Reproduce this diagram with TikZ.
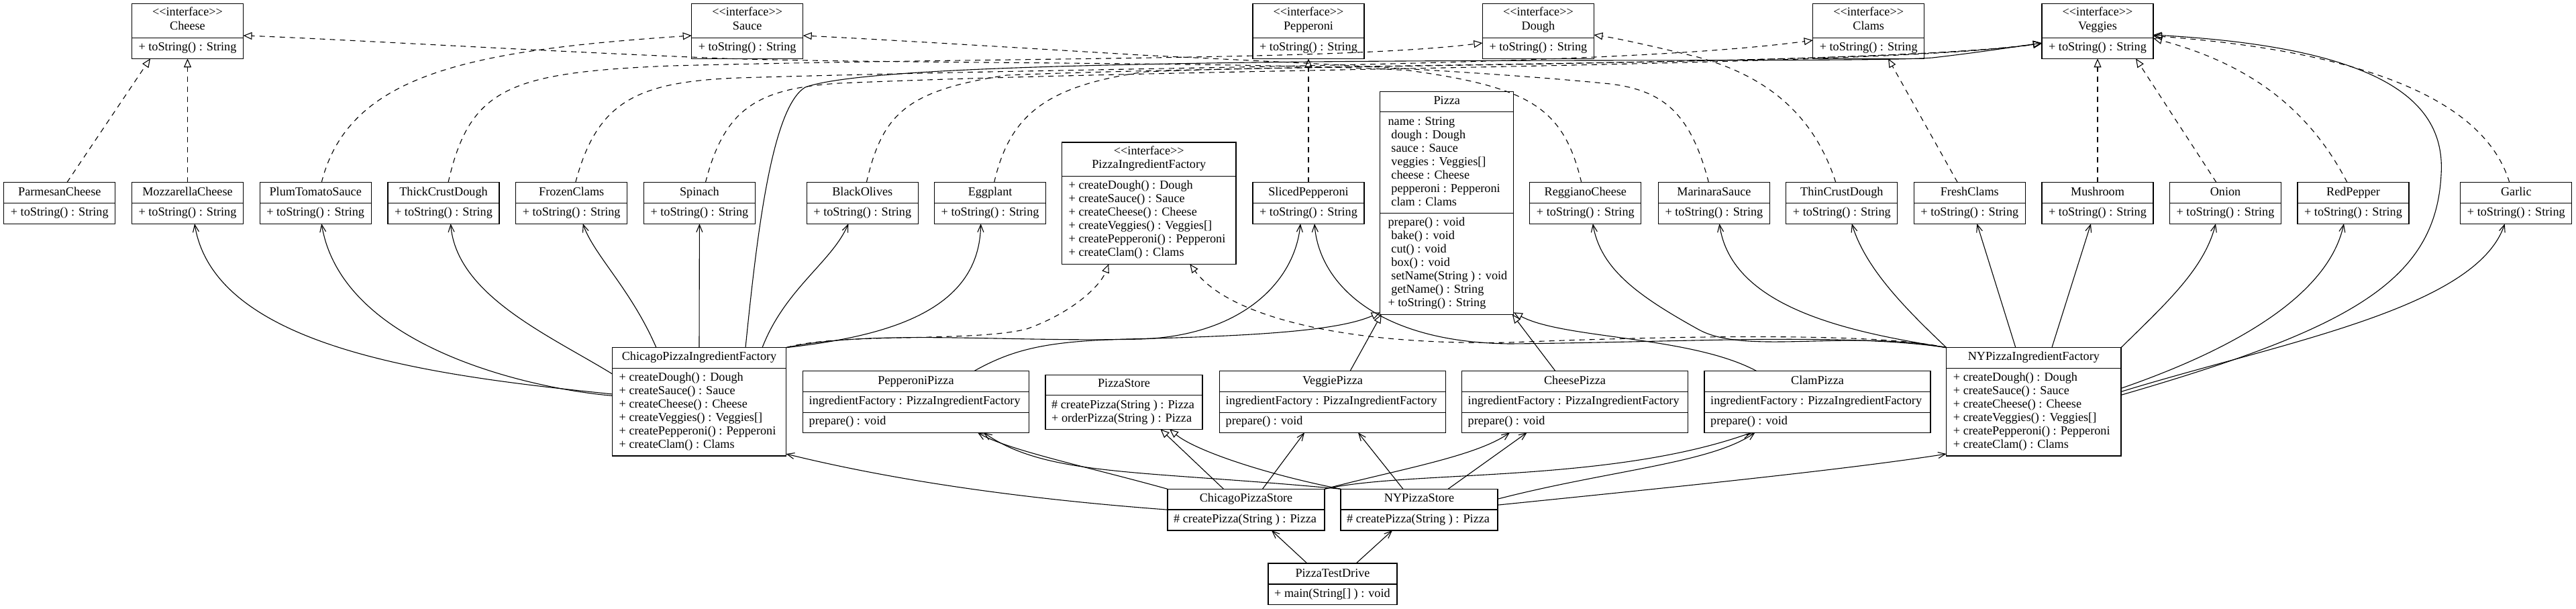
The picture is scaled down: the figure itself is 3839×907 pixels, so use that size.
\documentclass[tikz,border=0pt]{standalone}
\usepackage{fontspec}
\setmainfont{Liberation Serif}
\usetikzlibrary{arrows.meta}
\tikzset{
  box/.style={draw, line width=1.3pt, rectangle, inner sep=0pt, outer sep=0pt, anchor=north west},
  sepline/.style={line width=1.3pt},
  lbl/.style={inner sep=0pt, text height=12pt, text depth=4pt},
  conn/.style={line width=1.1pt},
  realize/.style={conn, dash pattern=on 8pt off 7pt, -{Triangle[open,length=13pt,width=11pt]}},
  gen/.style={conn, -{Triangle[open,length=13pt,width=11pt]}},
  assoc/.style={conn, -{Straight Barb[length=11pt,width=9pt]}},
}
\newcommand{\stereo}{<{}<interface>{}>}
\newcommand{\ingbox}[3]{%
  \node[box, minimum width=166, minimum height=61.6] (#1) at (#2,271.7) {};
  \draw[sepline] ([yshift=-30.6]#1.north west) -- ([yshift=-30.6]#1.north east);
  \node[lbl] at ([yshift=-15.3]#1.north) {#3};
  \node[lbl] at ([yshift=15.5]#1.south) {+ toString() : String};
}
\newcommand{\ifacebox}[3]{%
  \node[box, minimum width=166, minimum height=81.6] (#1) at (#2,5.7) {};
  \draw[sepline] ([yshift=-51]#1.north west) -- ([yshift=-51]#1.north east);
  \node[lbl] at ([yshift=-14.3]#1.north) {\stereo};
  \node[lbl] at ([yshift=-35]#1.north) {#3};
  \node[lbl] at ([yshift=15.8]#1.south) {+ toString() : String};
}
\newcommand{\pizzabox}[3]{%
  \node[box, minimum width=337, minimum height=91.6] (#1) at (#2,552.7) {};
  \draw[sepline] ([yshift=-30.6]#1.north west) -- ([yshift=-30.6]#1.north east);
  \draw[sepline] ([yshift=-61.6]#1.north west) -- ([yshift=-61.6]#1.north east);
  \node[lbl] at ([yshift=-15.3]#1.north) {#3};
  \node[lbl, anchor=west] at ([xshift=9, yshift=-45.6]#1.north west) {ingredientFactory : PizzaIngredientFactory};
  \node[lbl, anchor=west] at ([xshift=9, yshift=-75.6]#1.north west) {prepare() : void};
}
\newcommand{\factbox}[4]{%
  \node[box, minimum width=#3, minimum height=161.3] (#1) at (#2,517.7) {};
  \draw[sepline] ([yshift=-30.6]#1.north west) -- ([yshift=-30.6]#1.north east);
  \node[lbl] at ([yshift=-14.6]#1.north) {#4};
  \foreach \t [count=\i] in {{+ createDough() : Dough},{+ createSauce() : Sauce},{+ createCheese() : Cheese},{+ createVeggies() : Veggies[]},{+ createPepperoni() : Pepperoni},{+ createClam() : Clams}}
    \node[lbl, anchor=west] at ([xshift=10, yshift={-45.6-20*(\i-1)}]#1.north west) {\t};
}
\newcommand{\storebox}[3]{%
  \node[box, minimum width=234, minimum height=61.7] (#1) at (#2,728.3) {};
  \draw[sepline] ([yshift=-30.7]#1.north west) -- ([yshift=-30.7]#1.north east);
  \node[lbl] at ([yshift=-15]#1.north) {#3};
  \node[lbl, anchor=west] at ([xshift=9, yshift=-45.7]#1.north west) {\# createPizza(String ) : Pizza};
}
\begin{document}
\begin{tikzpicture}[x=1pt, y=-1pt, font=\fontsize{18.2}{20}\selectfont]
\fill[white] (0,0) rectangle (3839,907);
\useasboundingbox (0,0) rectangle (3839,907);

% interfaces
\ifacebox{cheese}{196.5}{Cheese}
\ifacebox{sauce}{1030.7}{Sauce}
\ifacebox{pepperoni}{1867}{Pepperoni}
\ifacebox{dough}{2209.4}{Dough}
\ifacebox{clams}{2701.7}{Clams}
\ifacebox{veggies}{3043}{Veggies}

% ingredients
\ingbox{pc}{5.8}{ParmesanCheese}
\ingbox{mc}{196.5}{MozzarellaCheese}
\ingbox{pts}{387.2}{PlumTomatoSauce}
\ingbox{tcd}{578}{ThickCrustDough}
\ingbox{fc}{768.7}{FrozenClams}
\ingbox{sp}{959.4}{Spinach}
\ingbox{bo}{1202.3}{BlackOlives}
\ingbox{eg}{1392.6}{Eggplant}
\ingbox{slp}{1867}{SlicedPepperoni}
\ingbox{rc}{2279.8}{ReggianoCheese}
\ingbox{ms}{2471.4}{MarinaraSauce}
\ingbox{tnd}{2661.8}{ThinCrustDough}
\ingbox{frc}{2852.3}{FreshClams}
\ingbox{mu}{3043}{Mushroom}
\ingbox{on}{3233.5}{Onion}
\ingbox{rp}{3424}{RedPepper}
\ingbox{ga}{3666.8}{Garlic}

% PizzaIngredientFactory
\node[box, minimum width=259.5, minimum height=181.3] (pif) at (1582.5,212) {};
\draw[sepline] ([yshift=-50.3]pif.north west) -- ([yshift=-50.3]pif.north east);
\node[lbl] at ([yshift=-14.7]pif.north) {\stereo};
\node[lbl] at ([yshift=-34.7]pif.north) {PizzaIngredientFactory};
\foreach \t [count=\i] in {{+ createDough() : Dough},{+ createSauce() : Sauce},{+ createCheese() : Cheese},{+ createVeggies() : Veggies[]},{+ createPepperoni() : Pepperoni},{+ createClam() : Clams}}
  \node[lbl, anchor=west] at ([xshift=10, yshift={-65.7-20*(\i-1)}]pif.north west) {\t};

% Pizza
\node[box, minimum width=199, minimum height=331.6] (pizza) at (2056.8,136.7) {};
\draw[sepline] ([yshift=-30]pizza.north west) -- ([yshift=-30]pizza.north east);
\draw[sepline] ([yshift=-181]pizza.north west) -- ([yshift=-181]pizza.north east);
\node[lbl] at ([yshift=-15]pizza.north) {Pizza};
\node[lbl, anchor=west] at ([xshift=11.6, yshift=-46]pizza.north west) {name : String};
\node[lbl, anchor=west] at ([xshift=16.4, yshift=-66]pizza.north west) {dough : Dough};
\node[lbl, anchor=west] at ([xshift=16.4, yshift=-86]pizza.north west) {sauce : Sauce};
\node[lbl, anchor=west] at ([xshift=16.4, yshift=-106]pizza.north west) {veggies : Veggies[]};
\node[lbl, anchor=west] at ([xshift=16.4, yshift=-126]pizza.north west) {cheese : Cheese};
\node[lbl, anchor=west] at ([xshift=16.4, yshift=-146]pizza.north west) {pepperoni : Pepperoni};
\node[lbl, anchor=west] at ([xshift=16.4, yshift=-166]pizza.north west) {clam : Clams};
\node[lbl, anchor=west] at ([xshift=11.6, yshift=-196]pizza.north west) {prepare() : void};
\node[lbl, anchor=west] at ([xshift=16.4, yshift=-216]pizza.north west) {bake() : void};
\node[lbl, anchor=west] at ([xshift=16.4, yshift=-236]pizza.north west) {cut() : void};
\node[lbl, anchor=west] at ([xshift=16.4, yshift=-256]pizza.north west) {box() : void};
\node[lbl, anchor=west] at ([xshift=16.4, yshift=-276]pizza.north west) {setName(String ) : void};
\node[lbl, anchor=west] at ([xshift=16.4, yshift=-296]pizza.north west) {getName() : String};
\node[lbl, anchor=west] at ([xshift=11.6, yshift=-316]pizza.north west) {+ toString() : String};

% factories
\factbox{cpif}{912.5}{259}{ChicagoPizzaIngredientFactory}
\factbox{nypif}{2900.7}{260.3}{NYPizzaIngredientFactory}

% pizzas
\pizzabox{pp}{1196.5}{PepperoniPizza}
\pizzabox{vp}{1817.5}{VeggiePizza}
\pizzabox{cp}{2178.5}{CheesePizza}
\pizzabox{clp}{2540}{ClamPizza}

% PizzaStore
\node[box, minimum width=234, minimum height=81] (ps) at (1558,558.3) {};
\draw[sepline] ([yshift=-30]ps.north west) -- ([yshift=-30]ps.north east);
\node[lbl] at ([yshift=-14.4]ps.north) {PizzaStore};
\node[lbl, anchor=west] at ([xshift=9, yshift=-45.7]ps.north west) {\# createPizza(String ) : Pizza};
\node[lbl, anchor=west] at ([xshift=9, yshift=-65.7]ps.north west) {+ orderPizza(String ) : Pizza};

\storebox{cps}{1740}{ChicagoPizzaStore}
\storebox{nps}{1998}{NYPizzaStore}

% PizzaTestDrive
\node[box, minimum width=192, minimum height=61.7] (ptd) at (1890,839) {};
\draw[sepline] ([yshift=-31]ptd.north west) -- ([yshift=-31]ptd.north east);
\node[lbl] at ([yshift=-16]ptd.north) {PizzaTestDrive};
\node[lbl, anchor=west] at ([xshift=9, yshift=-46]ptd.north west) {+ main(String[] ) : void};

% ---------- realizations (ingredients -> interfaces)
\draw[realize] ([xshift=11]pc.north) -- ([xshift=-55.5]cheese.south);
\draw[realize] (mc.north) -- (cheese.south);
\draw[realize] ([xshift=9]pts.north) .. controls (520,110) and (700,75) .. ([yshift=-6.5]sauce.west);
\draw[realize] ([xshift=7]tcd.north) .. controls (700,130) and (760,108) .. (1000,98) .. controls (1500,85) and (2000,90) .. ([yshift=-17.5]dough.west);
\draw[realize] ([xshift=6]fc.north) .. controls (890,150) and (950,122) .. (1100,116) .. controls (1700,98) and (2400,100) .. ([yshift=-13.5]clams.west);
\draw[realize] ([xshift=9]sp.north) .. controls (1080,160) and (1130,132) .. (1250,124) .. controls (1800,100) and (2800,100) .. ([yshift=-18]veggies.west);
\draw[realize] ([xshift=6]bo.north) .. controls (1315,170) and (1350,135) .. (1500,112) .. controls (1900,95) and (2800,98) .. ([yshift=-18]veggies.west);
\draw[realize] ([xshift=6]eg.north) .. controls (1505,170) and (1560,128) .. (1706,107) .. controls (2000,94) and (2800,97) .. ([yshift=-18]veggies.west);
\draw[realize] (slp.north) -- (pepperoni.south);
\draw[realize] ([xshift=-6]rc.north) .. controls (2330,160) and (2280,130) .. (2100,105) .. controls (1900,92) and (1300,95) .. (1078,87) .. controls (800,76) and (500,58) .. ([yshift=-6.5]cheese.east);
\draw[realize] ([xshift=-8]ms.north) .. controls (2520,170) and (2480,135) .. (2400,125) .. controls (2200,105) and (1900,92) .. (1700,82) .. controls (1500,70) and (1300,58) .. ([yshift=-6.5]sauce.east);
\draw[realize] ([xshift=-9]tnd.north) .. controls (2700,160) and (2620,110) .. (2530,85) .. controls (2460,68) and (2410,57) .. ([yshift=-5.5]dough.east);
\draw[realize] ([xshift=-18]frc.north) -- ([xshift=29.3]clams.south);
\draw[realize] (mu.north) -- (veggies.south);
\draw[realize] ([xshift=-13.5]on.north) -- ([xshift=57]veggies.south);
\draw[realize] ([xshift=-9]rp.north) .. controls (3440,160) and (3350,95) .. ([yshift=-10.5]veggies.east);
\draw[realize] ([xshift=-10]ga.north) .. controls (3700,140) and (3500,75) .. ([yshift=-7]veggies.east);

% factories -> PizzaIngredientFactory
\draw[realize] (cpif.north east) .. controls (1250,495) and (1450,510) .. (1530,490) .. controls (1600,465) and (1640,425) .. ([xshift=-60]pif.south);
\draw[realize] (nypif.north west) .. controls (2800,495) and (2500,500) .. (2250,510) .. controls (2000,515) and (1830,470) .. ([xshift=61]pif.south);

% ---------- Chicago factory associations
\draw[assoc] ([yshift=11.4]cpif.west) .. controls (650,560) and (320,520) .. ([xshift=10.5]mc.south);
\draw[assoc] ([yshift=9]cpif.west) .. controls (800,580) and (510,520) .. ([xshift=9]pts.south);
\draw[assoc] ([yshift=41.4]cpif.west) .. controls (820,500) and (680,440) .. ([xshift=10.6]tcd.south);
\draw[assoc] ([xshift=-64]cpif.north) .. controls (940,430) and (885,380) .. ([xshift=17]fc.south);
\draw[assoc] (cpif.north) -- (sp.south);
\draw[assoc] ([xshift=94]cpif.north) .. controls (1170,430) and (1240,390) .. ([xshift=-21]bo.south);
\draw[assoc] (cpif.north east) .. controls (1330,500) and (1460,460) .. ([xshift=-14]eg.south);
\draw[assoc] (cpif.north east) .. controls (1300,490) and (1500,510) .. (1700,505) .. controls (1850,500) and (1930,420) .. ([xshift=-12]slp.south);
\draw[assoc] ([xshift=69]cpif.north) .. controls (1128,350) and (1150,160) .. (1200,130) .. controls (1260,108) and (1500,97) .. (1950,92) .. controls (2400,88) and (2800,92) .. (2880,86) .. controls (2950,78) and (3000,70) .. ([yshift=-17.5]veggies.west);

% ---------- NY factory associations
\draw[assoc] (nypif.north west) .. controls (2750,490) and (2600,530) .. (2530,490) .. controls (2440,440) and (2385,400) .. ([xshift=11]rc.south);
\draw[assoc] (nypif.north west) .. controls (2760,495) and (2580,460) .. ([xshift=8]ms.south);
\draw[assoc] (nypif.north west) .. controls (2840,460) and (2780,400) .. ([xshift=15]tnd.south);
\draw[assoc] ([xshift=-27]nypif.north) -- ([xshift=11]frc.south);
\draw[assoc] ([xshift=27]nypif.north) -- ([xshift=-10]mu.south);
\draw[assoc] (nypif.north east) .. controls (3230,450) and (3285,400) .. ([xshift=-14.5]on.south);
\draw[assoc] ([yshift=20]nypif.east) .. controls (3330,520) and (3470,440) .. ([xshift=-14]rp.south);
\draw[assoc] ([yshift=15]nypif.east) .. controls (3400,510) and (3690,460) .. ([xshift=-17]ga.south);
\draw[assoc] ([yshift=10]nypif.east) .. controls (3500,490) and (3630,420) .. (3638,260) .. controls (3645,150) and (3550,70) .. ([yshift=-5.5]veggies.east);
\draw[assoc] (nypif.north west) .. controls (2750,495) and (2500,510) .. (2250,512) .. controls (2050,510) and (1965,420) .. ([xshift=9]slp.south);

% ---------- pizza generalizations
\draw[gen] ([xshift=86.5]pp.north) .. controls (1510,520) and (1560,508) .. (1680,505) .. controls (1900,500) and (2000,490) .. ([yshift=3]pizza.south west);
\draw[gen] ([xshift=26]vp.north) -- ([xshift=2]pizza.south west);
\draw[gen] ([xshift=-29]cp.north) -- ([xshift=-2]pizza.south east);
\draw[gen] ([xshift=-90.5]clp.north) .. controls (2520,500) and (2330,505) .. ([yshift=3]pizza.south east);

% ---------- stores
\draw[gen] ([xshift=-33.5]cps.north) -- ([xshift=54.5]ps.south);
\draw[gen] (nps.north west) .. controls (1880,705) and (1780,670) .. ([xshift=68]ps.south);
\draw[assoc] (cps.west) .. controls (1550,745) and (1350,720) .. ([yshift=3]cpif.south east);
\draw[assoc] ([yshift=7]nps.east) .. controls (2450,730) and (2750,700) .. ([yshift=3]nypif.south west);
\draw[assoc] (cps.north west) .. controls (1620,695) and (1500,670) .. ([xshift=92]pp.south);
\draw[assoc] (nps.north west) .. controls (1700,700) and (1560,710) .. ([xshift=101]pp.south);
\draw[assoc] ([xshift=24.5]cps.north) -- ([xshift=-42]vp.south);
\draw[assoc] ([xshift=-24]nps.north) -- ([xshift=38]vp.south);
\draw[assoc] (cps.north east) .. controls (2080,700) and (2200,680) .. ([xshift=-97]cp.south);
\draw[assoc] ([xshift=43]nps.north) -- ([xshift=-71.4]cp.south);
\draw[assoc] (cps.north east) .. controls (2100,700) and (2400,720) .. ([xshift=-98.5]clp.south);
\draw[assoc] ([yshift=16]nps.east) .. controls (2400,700) and (2550,690) .. ([xshift=-93]clp.south);

% ---------- test drive
\draw[assoc] ([xshift=-38]ptd.north) -- ([xshift=38]cps.south);
\draw[assoc] ([xshift=35]ptd.north) -- ([xshift=-40]nps.south);
\end{tikzpicture}
\end{document}
